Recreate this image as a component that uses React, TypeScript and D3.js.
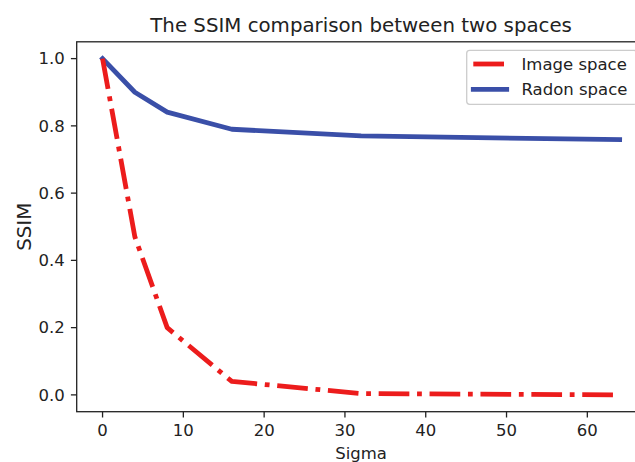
import React from "react";
import * as d3 from "d3";

const sigma = [0, 4, 8, 16, 32, 64];
const imageSpace = [1.0, 0.47, 0.2, 0.04, 0.004, 0.0];
const radonSpace = [1.0, 0.9, 0.841, 0.79, 0.77, 0.759];
const xTicks = [0, 10, 20, 30, 40, 50, 60];
const yTicks = [0.0, 0.2, 0.4, 0.6, 0.8, 1.0];
const seriesNames = ["Image space", "Radon space"];
const seriesColors = ["#ec1c1c", "#3a4fa8"];

const W = 635;
const H = 462;
const left = 76.7;
const right = 645.5;
const top = 41.8;
const bottom = 411.7;
const font = "DejaVu Sans, Liberation Sans, sans-serif";
const ink = "#222";

export default function App() {
  const x = d3.scaleLinear().domain([-3.2, 67.2]).range([left, right]);
  const y = d3.scaleLinear().domain([-0.05, 1.05]).range([bottom, top]);
  const line = d3
    .line<number>()
    .x((_, i) => x(sigma[i]))
    .y((d) => y(d));
  const lw = 4.8;
  const dash = "30.7 7.7 4.8 7.7";
  const lx = 466.7;
  const ly = 50.3;
  return (
    <svg
      width={W}
      height={H}
      style={{ position: "absolute", left: 0, top: 0, background: "#fff" }}
      fontFamily={font}
    >
      <rect x={0} y={0} width={W} height={H} fill="#fff" />
      <text x={(left + right) / 2} y={32.4} textAnchor="middle" fontSize={19.8} fill={ink}>
        The SSIM comparison between two spaces
      </text>
      {/* lines */}
      <path
        d={line(radonSpace) || ""}
        fill="none"
        stroke={seriesColors[1]}
        strokeWidth={lw}
        strokeLinejoin="round"
        strokeLinecap="square"
      />
      <path
        d={line(imageSpace) || ""}
        fill="none"
        stroke={seriesColors[0]}
        strokeWidth={lw}
        strokeLinejoin="round"
        strokeLinecap="butt"
        strokeDasharray={dash}
      />
      {/* spines */}
      <rect
        x={left}
        y={top}
        width={right - left}
        height={bottom - top}
        fill="none"
        stroke={ink}
        strokeWidth={1.3}
      />
      {/* x ticks */}
      {xTicks.map((t) => (
        <g key={"x" + t}>
          <line x1={x(t)} x2={x(t)} y1={bottom} y2={bottom + 5.8} stroke={ink} strokeWidth={1.3} />
          <text x={x(t)} y={436} textAnchor="middle" fontSize={16.5} fill={ink}>
            {t}
          </text>
        </g>
      ))}
      {/* y ticks */}
      {yTicks.map((t) => (
        <g key={"y" + t}>
          <line x1={left - 5.8} x2={left} y1={y(t)} y2={y(t)} stroke={ink} strokeWidth={1.3} />
          <text x={left - 12} y={y(t)} dy="0.35em" textAnchor="end" fontSize={16.5} fill={ink}>
            {t.toFixed(1)}
          </text>
        </g>
      ))}
      <text x={(left + right) / 2} y={458.5} textAnchor="middle" fontSize={16.5} fill={ink}>
        Sigma
      </text>
      <text
        transform={`translate(30.5, ${(top + bottom) / 2}) rotate(-90)`}
        textAnchor="middle"
        fontSize={19.8}
        fill={ink}
      >
        SSIM
      </text>
      {/* legend */}
      <rect
        x={lx}
        y={ly}
        width={170}
        height={54}
        rx={3}
        fill="#fff"
        fillOpacity={0.8}
        stroke="#cccccc"
        strokeWidth={1.3}
      />
      {seriesNames.map((name, i) => {
        const yy = 64 + i * 25.3;
        return (
          <g key={name}>
            <line
              x1={473.3}
              x2={506.7}
              y1={yy}
              y2={yy}
              stroke={seriesColors[i]}
              strokeWidth={lw}
              strokeDasharray={i === 0 ? dash : undefined}
              strokeLinecap={i === 0 ? "butt" : "square"}
            />
            <text x={521.5} y={yy} dy="0.35em" fontSize={16.5} fill={ink}>
              {name}
            </text>
          </g>
        );
      })}
    </svg>
  );
}
